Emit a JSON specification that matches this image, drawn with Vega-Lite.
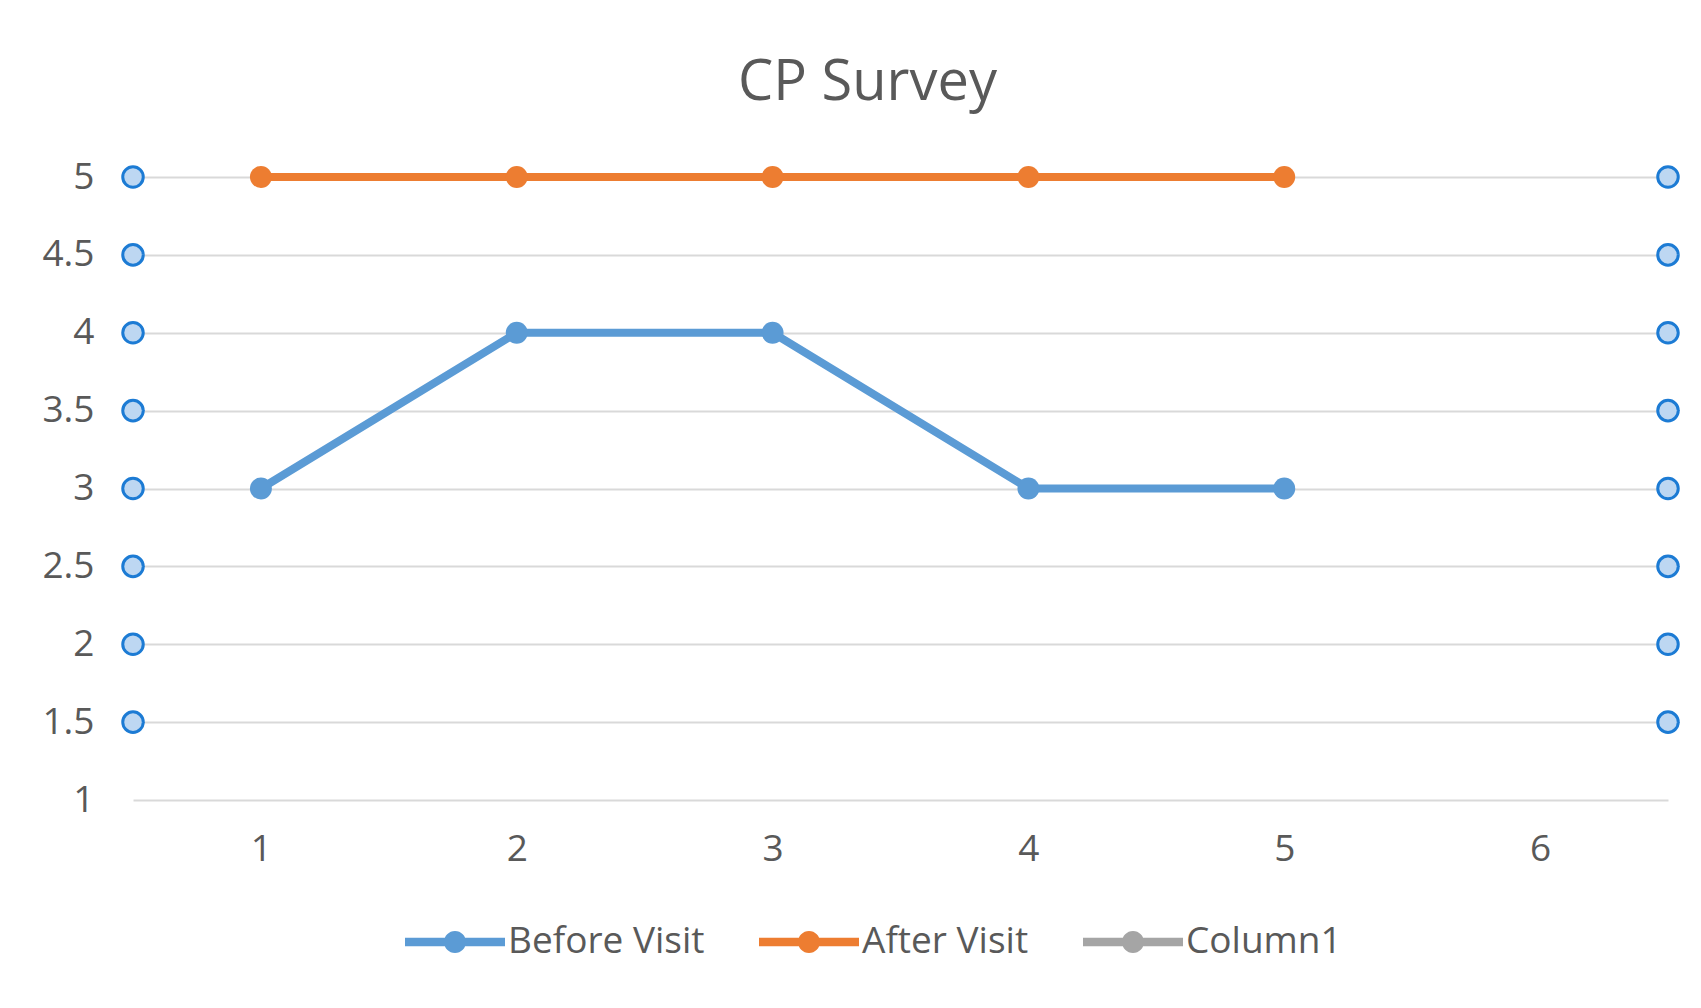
{
  "$schema": "https://vega.github.io/schema/vega-lite/v6.json",
  "autosize": "none",
  "width": 1535,
  "height": 623,
  "padding": {"left": 133, "top": 177, "right": 33, "bottom": 208},
  "background": "white",
  "title": {
    "text": "CP Survey",
    "font": "Open Sans",
    "fontSize": 56,
    "fontWeight": "normal",
    "color": "#595959",
    "anchor": "middle",
    "dx": -33,
    "offset": 46
  },
  "datasets": {
    "series": [
      {"item": 1, "series": "Before Visit", "score": 3},
      {"item": 2, "series": "Before Visit", "score": 4},
      {"item": 3, "series": "Before Visit", "score": 4},
      {"item": 4, "series": "Before Visit", "score": 3},
      {"item": 5, "series": "Before Visit", "score": 3},
      {"item": 1, "series": "After Visit", "score": 5},
      {"item": 2, "series": "After Visit", "score": 5},
      {"item": 3, "series": "After Visit", "score": 5},
      {"item": 4, "series": "After Visit", "score": 5},
      {"item": 5, "series": "After Visit", "score": 5}
    ],
    "handles": [
      {"hx": 0.5, "hy": 1.5}, {"hx": 0.5, "hy": 2}, {"hx": 0.5, "hy": 2.5}, {"hx": 0.5, "hy": 3},
      {"hx": 0.5, "hy": 3.5}, {"hx": 0.5, "hy": 4}, {"hx": 0.5, "hy": 4.5}, {"hx": 0.5, "hy": 5},
      {"hx": 6.5, "hy": 1.5}, {"hx": 6.5, "hy": 2}, {"hx": 6.5, "hy": 2.5}, {"hx": 6.5, "hy": 3},
      {"hx": 6.5, "hy": 3.5}, {"hx": 6.5, "hy": 4}, {"hx": 6.5, "hy": 4.5}, {"hx": 6.5, "hy": 5}
    ]
  },
  "config": {
    "view": {"stroke": null},
    "axis": {
      "labelFont": "Open Sans",
      "labelFontSize": 37,
      "labelColor": "#595959",
      "domain": false,
      "ticks": false,
      "title": null
    },
    "legend": {
      "labelFont": "Open Sans",
      "labelFontSize": 37,
      "labelColor": "#595959",
      "labelLimit": 0
    }
  },
  "layer": [
    {
      "data": {"name": "series"},
      "mark": {"type": "line", "strokeWidth": 8},
      "encoding": {
        "x": {
          "field": "item", "type": "quantitative",
          "scale": {"domain": [0.5, 6.5], "nice": false, "zero": false},
          "axis": {"values": [1, 2, 3, 4, 5, 6], "format": "d", "grid": false, "labelPadding": 31, "title": null}
        },
        "y": {
          "field": "score", "type": "quantitative",
          "scale": {"domain": [1, 5], "nice": false, "zero": false},
          "axis": {"values": [1, 1.5, 2, 2.5, 3, 3.5, 4, 4.5, 5], "format": "~g", "grid": true, "gridColor": "#D9D9D9", "gridWidth": 2, "labelPadding": 39, "title": null}
        },
        "color": {
          "field": "series", "type": "nominal",
          "scale": {"domain": ["Before Visit", "After Visit", "Column1"], "range": ["#5B9BD5", "#ED7D31", "#A5A5A5"]},
          "legend": {
            "title": null,
            "orient": "none",
            "direction": "horizontal",
            "legendX": 272,
            "legendY": 715,
            "padding": 0,
            "columnPadding": 54,
            "labelOffset": 3,
            "labelLimit": 0,
            "symbolType": "M-1,-0.085 L1,-0.085 L1,0.085 L-1,0.085 Z M-0.22,0 A0.22,0.22 0 1,1 0.22,0 A0.22,0.22 0 1,1 -0.22,0 Z",
            "symbolSize": 10000,
            "symbolStrokeWidth": 0,
            "encode": {
              "symbols": {"update": {"fill": {"scale": "color", "field": "value"}, "stroke": {"value": "transparent"}, "opacity": {"value": 1}}}
            }
          }
        }
      }
    },
    {
      "data": {"name": "series"},
      "mark": {"type": "point", "shape": "circle", "filled": true, "size": 480, "opacity": 1},
      "encoding": {
        "x": {"field": "item", "type": "quantitative"},
        "y": {"field": "score", "type": "quantitative"},
        "color": {"field": "series", "type": "nominal"}
      }
    },
    {
      "data": {"name": "handles"},
      "mark": {"type": "point", "shape": "circle", "filled": true, "size": 420, "fill": "#BDD7F2", "stroke": "#1C7BD4", "strokeWidth": 3, "opacity": 1},
      "encoding": {
        "x": {"field": "hx", "type": "quantitative"},
        "y": {"field": "hy", "type": "quantitative"}
      }
    }
  ]
}
